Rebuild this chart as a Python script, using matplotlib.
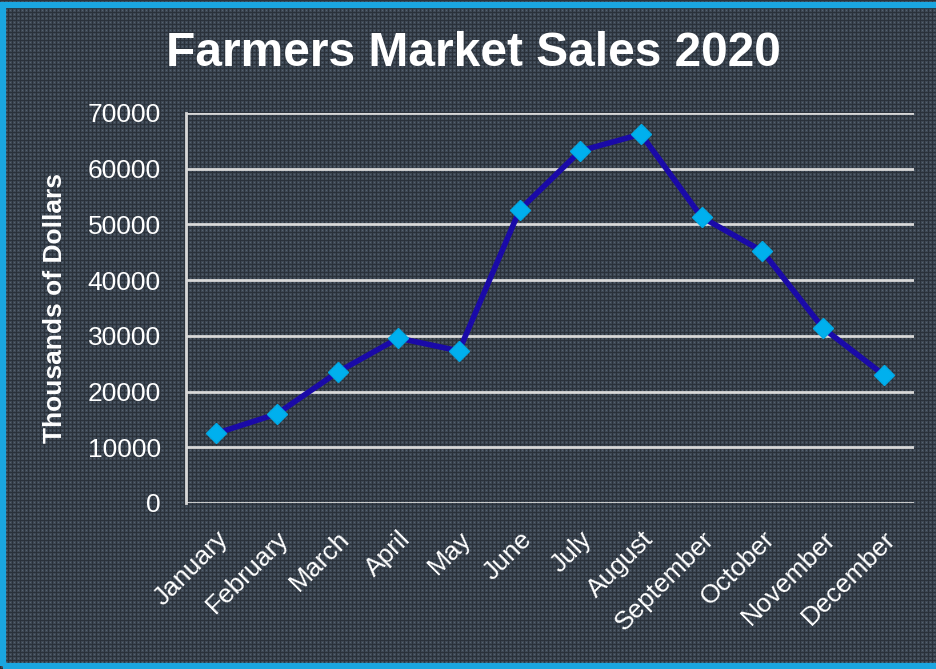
import numpy as np
import matplotlib.pyplot as plt

# monthly sales, thousands of dollars
months = ["January", "February", "March", "April", "May", "June",
          "July", "August", "September", "October", "November", "December"]
sales = [12500, 16000, 23500, 29600, 27300, 52600,
         63200, 66200, 51300, 45200, 31400, 23000]
yticks = [0, 10000, 20000, 30000, 40000, 50000, 60000, 70000]

plt.rcParams['font.family'] = ['Liberation Sans', 'DejaVu Sans']

W, H = 937, 669
fig = plt.figure(figsize=(W / 100, H / 100), dpi=100)

# textured slate background with a cyan frame
bg = fig.add_axes([0, 0, 1, 1], zorder=-10)
yy, xx = np.mgrid[0:H, 0:W]
tex = np.ones((H, W, 3)) * np.array([0x3e, 0x48, 0x54]) / 255
dark = (xx % 4 == 0) | (yy % 4 == 0)
tex[dark] = np.array([0x2a, 0x31, 0x3a]) / 255
spot = (xx % 4 == 2) & (yy % 4 == 2)
tex[spot] = np.array([0x55, 0x62, 0x70]) / 255
bg.imshow(tex, aspect='auto', interpolation='nearest')
bg.set_axis_off()
frame = plt.Rectangle((0.003, 0.004), 1.2, 0.988, transform=fig.transFigure,
                      fill=False, edgecolor='#1aa6e0', linewidth=4.5)
fig.patches.append(frame)

ax = fig.add_axes([186 / W, 1 - 503 / H, (914 - 186) / W, (503 - 113) / H])
ax.patch.set_alpha(0)
x = np.arange(len(months))
ax.plot(x, sales, color='#1a0aa8', linewidth=4, marker='D', markersize=10,
        markerfacecolor='#00b0ee', markeredgecolor='#00a8e4', zorder=3)

ax.set_xlim(-0.5, len(months) - 0.5)
ax.set_ylim(0, 70000)
ax.set_yticks(yticks)
ax.set_yticklabels([str(v) for v in yticks], fontsize=19, color='white')
ax.set_xticks(x)
ax.set_xticklabels(months, rotation=45, ha='right', va='top',
                   rotation_mode='anchor', fontsize=19, color='white')
ax.tick_params(axis='y', length=0, pad=18)
ax.tick_params(axis='x', length=0, pad=17)
ax.grid(axis='y', color='#d8d8d8', linewidth=2)
for s in ['top', 'right', 'bottom']:
    ax.spines[s].set_visible(False)
ax.spines['left'].set_color('#d8d8d8')
ax.spines['left'].set_linewidth(2)

ax.set_ylabel("Thousands of Dollars", fontsize=19, fontweight='bold',
              color='white', labelpad=15)
fig.text(473 / W, 1 - 53 / H, "Farmers Market Sales 2020", fontsize=34.5,
         fontweight='bold', color='white', ha='center', va='center')

fig.savefig('out.png', dpi=100)
